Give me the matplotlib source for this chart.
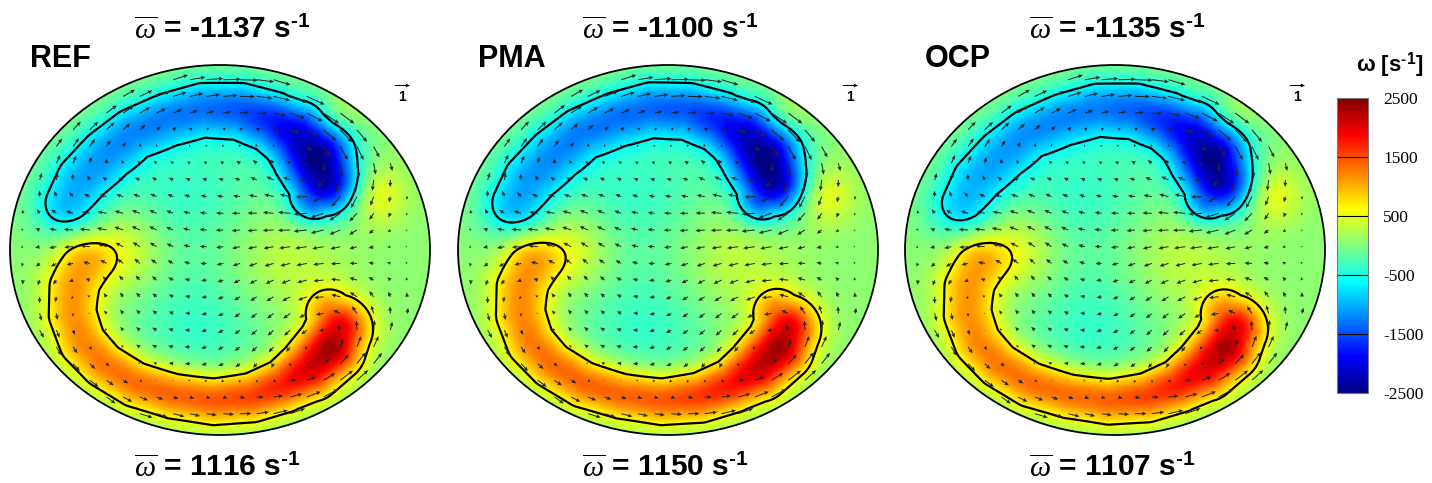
import numpy as np
import matplotlib.pyplot as plt
from matplotlib.colors import LinearSegmentedColormap, Normalize
from matplotlib.cm import ScalarMappable
from matplotlib.patches import Ellipse

# figure / layout in pixels
W_PX, H_PX = 1432, 483
RX, RY = 210.0, 185.0          # half axes of the ellipses, px
ASP = RY / RX
panel_cx = [220, 668, 1115]
panel_cy = 250

panel_names = ["REF", "PMA", "OCP"]
omega_neg = [-1137, -1100, -1135]
omega_pos = [1116, 1150, 1107]

# negative (blue) crescent: centre line in unit-ellipse coords, core width, peak vorticity
neg_x = [-0.72, -0.66, -0.55, -0.42, -0.25, -0.08, 0.10, 0.25, 0.37, 0.46, 0.50, 0.45]
neg_y = [0.25, 0.38, 0.52, 0.64, 0.72, 0.77, 0.76, 0.70, 0.62, 0.50, 0.38, 0.29]
neg_sig = [0.12, 0.12, 0.11, 0.10, 0.10, 0.10, 0.10, 0.10, 0.11, 0.12, 0.115, 0.09]
neg_amp = {
    "REF": [-1050, -1100, -1150, -1200, -1250, -1300, -1450, -1750, -2150, -2600, -2450, -1650],
    "PMA": [-1100, -1150, -1200, -1250, -1300, -1350, -1450, -1750, -2200, -2600, -2500, -1700],
    "OCP": [-1000, -1050, -1100, -1150, -1200, -1250, -1400, -1700, -2100, -2550, -2400, -1600],
}

# positive (red) crescent
pos_x = [-0.66, -0.70, -0.70, -0.65, -0.55, -0.40, -0.22, -0.03, 0.15, 0.30, 0.43, 0.53, 0.57, 0.53]
pos_y = [-0.07, -0.20, -0.35, -0.50, -0.62, -0.72, -0.78, -0.81, -0.79, -0.73, -0.64, -0.53, -0.43, -0.36]
pos_sig = [0.10, 0.10, 0.10, 0.095, 0.09, 0.09, 0.09, 0.09, 0.09, 0.09, 0.10, 0.10, 0.10, 0.09]
pos_amp = {
    "REF": [950, 1050, 1100, 1200, 1300, 1400, 1500, 1550, 1600, 1750, 2050, 2300, 1950, 1250],
    "PMA": [1000, 1100, 1150, 1250, 1350, 1450, 1500, 1550, 1650, 1800, 2100, 2300, 2000, 1300],
    "OCP": [950, 1050, 1100, 1200, 1300, 1400, 1450, 1500, 1600, 1750, 2000, 2250, 1950, 1250],
}

# broad background patches (cyan basins, yellow spots)
bg_x = [-0.10, 0.00, 0.74, 0.30, -0.46, -0.30, 0.60]
bg_y = [-0.42, 0.35, 0.30, -0.05, 0.00, 0.30, 0.75]
bg_sig = [0.25, 0.22, 0.10, 0.20, 0.14, 0.18, 0.08]
bg_amp = [-430, -300, 560, 320, 480, -250, 250]
base_level = 60
contour_level = 620

# MATLAB style jet
cmap = LinearSegmentedColormap.from_list(
    "mjet", [(0, (0, 0, 0.5)), (0.125, (0, 0, 1)), (0.375, (0, 1, 1)),
             (0.625, (1, 1, 0)), (0.875, (1, 0, 0)), (1, (0.5, 0, 0))])
norm = Normalize(-2500, 2500)

plt.rcParams['axes.unicode_minus'] = False
plt.rcParams['mathtext.fontset'] = 'custom'
plt.rcParams['mathtext.it'] = 'Liberation Serif:italic'
plt.rcParams['mathtext.rm'] = 'Liberation Sans:bold'
plt.rcParams['mathtext.bf'] = 'Liberation Sans:bold'


def ridge(xx, yy, px, py, sig, amp):
    # crescent = gaussian tube around the polyline, xx/yy isotropic coords
    px = np.asarray(px, float)
    py = np.asarray(py, float) * ASP
    val = np.zeros(xx.shape)
    for i in range(len(px) - 1):
        dx, dy = px[i + 1] - px[i], py[i + 1] - py[i]
        t = np.clip(((xx - px[i]) * dx + (yy - py[i]) * dy) / (dx * dx + dy * dy), 0, 1)
        d2 = (xx - px[i] - t * dx) ** 2 + (yy - py[i] - t * dy) ** 2
        a = amp[i] + t * (amp[i + 1] - amp[i])
        s = sig[i] + t * (sig[i + 1] - sig[i])
        f = a * np.exp(-d2 / (2 * s * s))
        val = np.where(np.abs(f) > np.abs(val), f, val)
    return val


def vorticity(xn, yn, name):
    xx, yy = xn, yn * ASP
    w = np.full(xn.shape, float(base_level))
    w += ridge(xx, yy, neg_x, neg_y, neg_sig, neg_amp[name])
    w += ridge(xx, yy, pos_x, pos_y, pos_sig, pos_amp[name])
    for bx, by, bs, ba in zip(bg_x, bg_y, bg_sig, bg_amp):
        w += ba * np.exp(-((xx - bx) ** 2 + (yy - by * ASP) ** 2) / (2 * bs * bs))
    return w


def solve_psi(w, inside, h, n_iter=4000):
    # Jacobi for lap(psi) = -w, psi = 0 on the wall
    psi = np.zeros_like(w)
    for _ in range(n_iter):
        nb = np.zeros_like(psi)
        nb[1:-1, 1:-1] = psi[2:, 1:-1] + psi[:-2, 1:-1] + psi[1:-1, 2:] + psi[1:-1, :-2]
        psi = np.where(inside, 0.25 * (nb + h * h * w), 0.0)
    return psi


fig = plt.figure(figsize=(W_PX / 100, H_PX / 100), dpi=100)

# fine grid for the colour field
xf = np.linspace(-1, 1, 400)
yf = np.linspace(-1, 1, 400)
XF, YF = np.meshgrid(xf, yf)

# pixel grid for flow (arrows on every 2nd node, 16.7 px apart)
h = 8.35
gx = -5 + h * np.arange(-26, 27)
gy = 3.3 + h * np.arange(-23, 24)
GX, GY = np.meshgrid(gx, gy)
inside = (GX / RX) ** 2 + (GY / RY) ** 2 < 1.0

for k, name in enumerate(panel_names):
    cx = panel_cx[k]
    ax = fig.add_axes([(cx - RX) / W_PX, (H_PX - (panel_cy + RY)) / H_PX,
                       2 * RX / W_PX, 2 * RY / H_PX])
    ax.set_xlim(-1, 1)
    ax.set_ylim(-1, 1)
    ax.axis('off')

    wf = vorticity(XF, YF, name)
    im = ax.imshow(wf, extent=(-1, 1, -1, 1), origin='lower', cmap=cmap, norm=norm,
                   interpolation='bilinear', aspect='auto')
    ell = Ellipse((0, 0), 2, 2, facecolor='none', edgecolor='k', lw=1.3, zorder=5)
    ell.set_clip_on(False)
    ax.add_patch(ell)
    im.set_clip_path(ell)
    cs = ax.contour(XF, YF, wf, levels=[-contour_level, contour_level], colors='k',
                    linewidths=1.6, linestyles='solid')
    cs.set_clip_path(ell)

    # velocity from the vorticity
    wg = vorticity(GX / RX, GY / RY, name)
    psi = solve_psi(wg, inside, h)
    dpsi_dy, dpsi_dx = np.gradient(psi, h)
    u = dpsi_dy
    v = -dpsi_dx
    sel = np.zeros_like(inside)
    sel[1::2, 1::2] = True
    sel &= (GX / RX) ** 2 + (GY / RY) ** 2 < 0.93
    spd = np.hypot(u[sel], v[sel])
    fac = 1.3 / spd.max()
    q = ax.quiver(GX[sel] / RX, GY[sel] / RY, u[sel] * fac, v[sel] * fac,
                  angles='uv', scale_units='x', scale=14, color='#262626',
                  width=0.0024, headwidth=4, headlength=4.5, headaxislength=4,
                  minlength=0.3, zorder=4)
    ax.quiverkey(q, (cx + 182) / W_PX, 1 - 85 / H_PX, 1, '1', labelpos='S',
                 coordinates='figure', labelsep=0.05, color='k',
                 fontproperties={'weight': 'bold', 'size': 10, 'family': 'Liberation Sans'})

    fig.text(cx + 2, H_PX - 39, r'$\overline{\omega}$ = %d s$^{\text{-1}}$' % omega_neg[k],
             transform=None, ha='center', va='baseline', fontsize=21.5,
             fontweight='bold', family='Liberation Sans')
    fig.text(cx - 3, H_PX - 477, r'$\overline{\omega}$ = %d s$^{\text{-1}}$' % omega_pos[k],
             transform=None, ha='center', va='baseline', fontsize=21.5,
             fontweight='bold', family='Liberation Sans')
    fig.text(cx - 190, H_PX - 67, name, transform=None, ha='left', va='baseline',
             fontsize=22, fontweight='bold', family='Liberation Sans')

# colour bar
cax = fig.add_axes([1337 / W_PX, (H_PX - 393) / H_PX, 31 / W_PX, 295 / H_PX])
cb = fig.colorbar(ScalarMappable(norm=norm, cmap=cmap), cax=cax,
                  ticks=[2500, 1500, 500, -500, -1500, -2500])
cb.ax.tick_params(length=0, pad=11)
for t in cb.ax.get_yticklabels():
    t.set_family('Liberation Serif')
    t.set_fontsize(12.5)
for lev in [-1500, -500, 500, 1500]:
    cb.ax.axhline(lev, color='k', lw=0.8)
cb.outline.set_edgecolor('#777777')
cb.outline.set_linewidth(0.8)
fig.text(1390, H_PX - 71, r'ω [s$^{\text{-1}}$]', transform=None, ha='center', va='baseline',
         fontsize=16, fontweight='bold', family='Liberation Sans')

fig.savefig('out.png', dpi=100)
